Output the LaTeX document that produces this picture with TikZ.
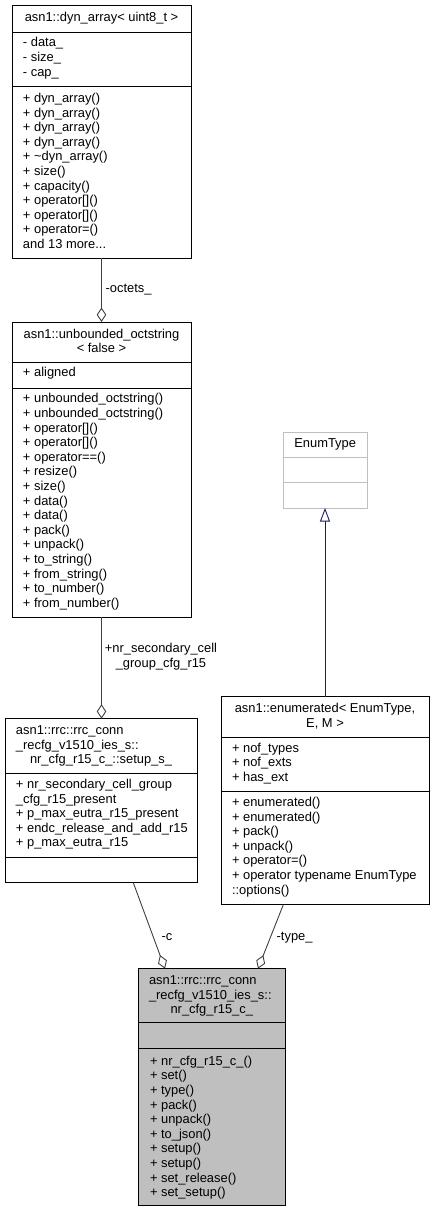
\documentclass[tikz,border=0pt]{standalone}
\usepackage{fontspec}
\setmainfont{Liberation Sans}
\usetikzlibrary{arrows.meta}
\definecolor{edgegray}{HTML}{404040}
\definecolor{navyedge}{HTML}{191970}
\definecolor{focusfill}{HTML}{BFBFBF}
\definecolor{ghostline}{HTML}{BFBFBF}
\newcommand{\umlfont}{\fontsize{12.9}{14.6}\selectfont}

\begin{document}
\begin{tikzpicture}[x=1pt,y=-1pt,
  classbox/.style={draw=black, line width=0.9pt, fill=white, rectangle,
    inner sep=0pt, outer sep=0pt, anchor=north west},
  txt/.style={inner sep=0pt, outer sep=0pt, font=\umlfont, align=left, anchor=north west},
  ttl/.style={inner sep=0pt, outer sep=0pt, font=\umlfont, align=center, anchor=north},
  sep/.style={draw=black, line width=0.9pt},
  assoc/.style={draw=edgegray, line width=0.9pt,
    -{Diamond[open, length=14.5pt, width=9.5pt, fill=white]}},
  inherit/.style={draw=navyedge, line width=0.9pt,
    -{Triangle[open, length=13.5pt, width=10pt, fill=white]}}
]
\useasboundingbox (0,0) rectangle (435,1212);

% asn1::dyn_array< uint8_t >
\node[classbox, minimum width=179pt, minimum height=253pt] (dyn) at (12,5) {};
\draw[sep] (dyn.west |- 0,32) -- (dyn.east |- 0,32);
\draw[sep] (dyn.west |- 0,86) -- (dyn.east |- 0,86);
\node[ttl] (dynname) at (101.5,11.3) {\strut asn1::dyn\_array< uint8\_t >};
\node[txt] (dynattr) at (23,36.6) {\strut - data\_\\- size\_\\- cap\_};
\node[txt] (dynops) at (23,92.3) {\strut + dyn\_array()\\+ dyn\_array()\\+ dyn\_array()\\+ dyn\_array()\\+ \textasciitilde dyn\_array()\\+ size()\\+ capacity()\\+ operator[]()\\+ operator[]()\\+ operator=()\\and 13 more...};

% asn1::unbounded_octstring< false >
\node[classbox, minimum width=179pt, minimum height=295pt] (oct) at (12,322) {};
\draw[sep] (oct.west |- 0,362) -- (oct.east |- 0,362);
\draw[sep] (oct.west |- 0,388) -- (oct.east |- 0,388);
\node[ttl] (octname) at (101.5,327.8) {\strut asn1::unbounded\_octstring\\< false >};
\node[txt] (octattr) at (23,366.6) {\strut + aligned};
\node[txt] (octops) at (23,392.6) {\strut + unbounded\_octstring()\\+ unbounded\_octstring()\\+ operator[]()\\+ operator[]()\\+ operator==()\\+ resize()\\+ size()\\+ data()\\+ data()\\+ pack()\\+ unpack()\\+ to\_string()\\+ from\_string()\\+ to\_number()\\+ from\_number()};

% asn1::rrc::rrc_conn_recfg_v1510_ies_s::nr_cfg_r15_c_::setup_s_
\node[classbox, minimum width=192pt, minimum height=164pt] (setup) at (5,718.7) {};
\draw[sep] (setup.west |- 0,773.7) -- (setup.east |- 0,773.7);
\draw[sep] (setup.west |- 0,857.7) -- (setup.east |- 0,857.7);
\node[txt] (setupname) at (16,724.3) {\strut asn1::rrc::rrc\_conn\\\_recfg\_v1510\_ies\_s::};
\node[ttl] (setupname2) at (101,753.5) {\strut nr\_cfg\_r15\_c\_::setup\_s\_};
\node[txt] (setupattr) at (16,778.3) {\strut + nr\_secondary\_cell\_group\\\_cfg\_r15\_present\\+ p\_max\_eutra\_r15\_present\\+ endc\_release\_and\_add\_r15\\+ p\_max\_eutra\_r15};

% asn1::enumerated< EnumType, E, M >
\node[classbox, minimum width=208pt, minimum height=208pt] (enum) at (221,696.7) {};
\draw[sep] (enum.west |- 0,737) -- (enum.east |- 0,737);
\draw[sep] (enum.west |- 0,791.7) -- (enum.east |- 0,791.7);
\node[ttl] (enumname) at (325,702.3) {\strut asn1::enumerated< EnumType,\\E, M >};
\node[txt] (enumattr) at (232,742) {\strut + nof\_types\\+ nof\_exts\\+ has\_ext};
\node[txt] (enumops) at (232,796.3) {\strut + enumerated()\\+ enumerated()\\+ pack()\\+ unpack()\\+ operator=()\\+ operator typename EnumType\\::options()};

% EnumType (template parameter)
\node[classbox, draw=ghostline, minimum width=83.7pt, minimum height=76pt] (etype) at (283.3,432) {};
\draw[sep, draw=ghostline] (etype.west |- 0,457.3) -- (etype.east |- 0,457.3);
\draw[sep, draw=ghostline] (etype.west |- 0,482.7) -- (etype.east |- 0,482.7);
\node[ttl] (etypename) at (325.15,437.3) {\strut EnumType};

% asn1::rrc::rrc_conn_recfg_v1510_ies_s::nr_cfg_r15_c_
\node[classbox, fill=focusfill, minimum width=147pt, minimum height=236.3pt] (nrcfg) at (138.3,968.7) {};
\draw[sep] (nrcfg.west |- 0,1022.7) -- (nrcfg.east |- 0,1022.7);
\draw[sep] (nrcfg.west |- 0,1048.5) -- (nrcfg.east |- 0,1048.5);
\node[txt] (nrcfgname) at (149,974.3) {\strut asn1::rrc::rrc\_conn\\\_recfg\_v1510\_ies\_s::};
\node[ttl] (nrcfgname2) at (211.8,1003.5) {\strut nr\_cfg\_r15\_c\_};
\node[txt] (nrcfgops) at (150,1055) {\strut + nr\_cfg\_r15\_c\_()\\+ set()\\+ type()\\+ pack()\\+ unpack()\\+ to\_json()\\+ setup()\\+ setup()\\+ set\_release()\\+ set\_setup()};

% connectors
\draw[assoc] (dyn.south) -- (oct.north);
\node[txt] (lbloctets) at (105.7,282.6) {\strut -octets\_};

\draw[assoc] (oct.south) -- (oct.south |- setup.north);
\node[ttl] (lblsecondary) at (161,642.3) {\strut +nr\_secondary\_cell\\\_group\_cfg\_r15};

\draw[inherit] (enum.north) -- (enum.north |- etype.south);

\draw[assoc] ([xshift=32.3pt]setup.south) -- ([xshift=-46.8pt]nrcfg.north);
\node[txt] (lblc) at (161.7,930) {\strut -c};

\draw[assoc] ([xshift=-41.7pt]enum.south) -- ([xshift=46.2pt]nrcfg.north);
\node[txt] (lbltype) at (276.7,930) {\strut -type\_};
\end{tikzpicture}
\end{document}
